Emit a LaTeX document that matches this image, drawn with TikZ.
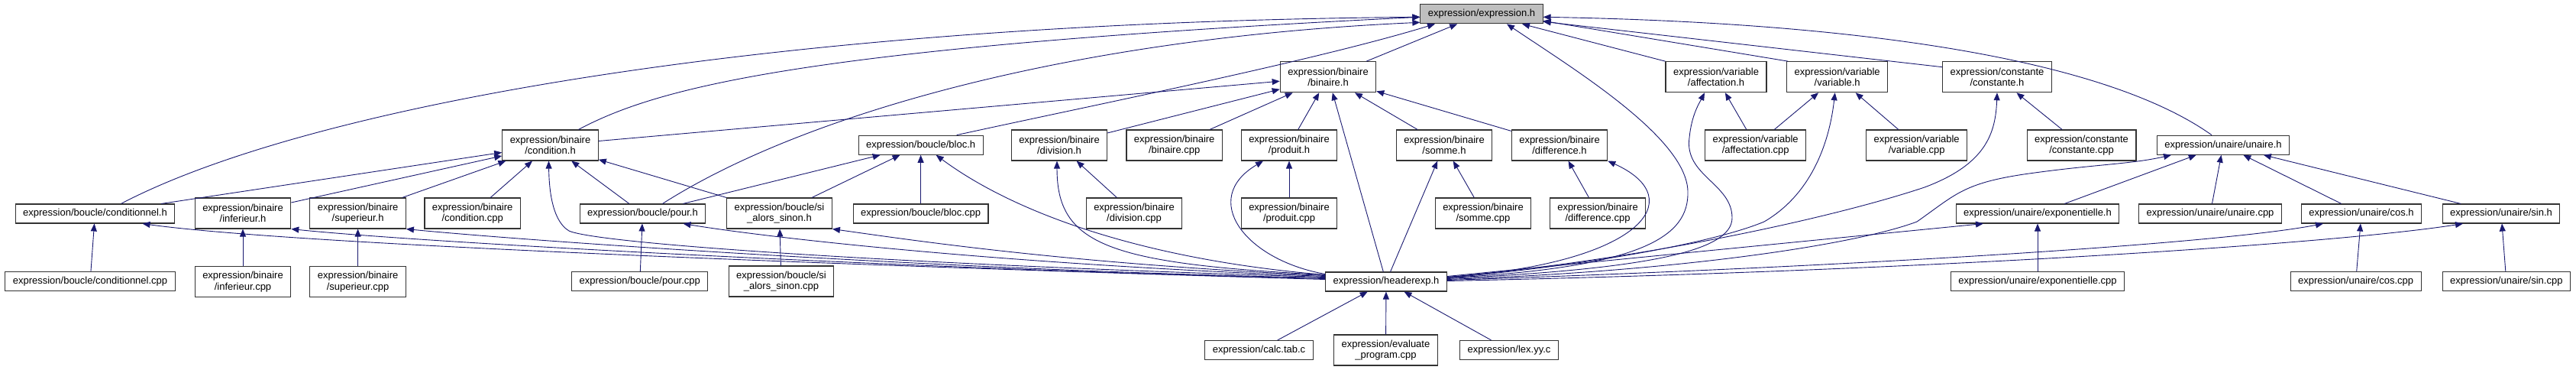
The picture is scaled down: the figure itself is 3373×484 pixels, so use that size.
\documentclass[tikz,border=0pt]{standalone}
\usepackage{fontspec}
\setmainfont{Liberation Sans}
\usetikzlibrary{arrows.meta}
\definecolor{incblue}{RGB}{25,25,112}
\definecolor{selgray}{RGB}{191,191,191}
\tikzset{
  hfile/.style={draw=black!80, line width=1.1pt, fill=white, font=\fontsize{13}{14.5}\selectfont,
    align=center, inner xsep=10pt, inner ysep=2pt, minimum height=25pt},
  hfile2/.style={hfile, minimum height=40pt},
  inc/.style={incblue, line width=0.9pt, -{Triangle[length=10pt, width=8pt]}},
}
\begin{document}
\begin{tikzpicture}[x=1pt, y=-1pt]
\useasboundingbox (0,0) rectangle (3373,484);
\node[hfile, fill=selgray] (exprh) at (1940,18.3) {expression/expression.h};
\node[hfile2] (binh) at (1739,100.7) {expression/binaire\\/binaire.h};
\node[hfile2] (affh) at (2247,100.7) {expression/variable\\/affectation.h};
\node[hfile2] (varh) at (2405.7,100.7) {expression/variable\\/variable.h};
\node[hfile2] (consth) at (2615,100.7) {expression/constante\\/constante.h};
\node[hfile2] (condh) at (720.5,190) {expression/binaire\\/condition.h};
\node[hfile] (bloch) at (1205.6,189.7) {expression/boucle/bloc.h};
\node[hfile2] (divh) at (1387,190) {expression/binaire\\/division.h};
\node[hfile2] (bincpp) at (1537.7,190) {expression/binaire\\/binaire.cpp};
\node[hfile2] (prodh) at (1688,190) {expression/binaire\\/produit.h};
\node[hfile2] (sommeh) at (1891,190) {expression/binaire\\/somme.h};
\node[hfile2] (diffh) at (2042,190) {expression/binaire\\/difference.h};
\node[hfile2] (affcpp) at (2298.7,190) {expression/variable\\/affectation.cpp};
\node[hfile2] (varcpp) at (2509.7,190) {expression/variable\\/variable.cpp};
\node[hfile2] (constcpp) at (2725.5,190) {expression/constante\\/constante.cpp};
\node[hfile] (unh) at (2911,189.7) {expression/unaire/unaire.h};
\node[hfile] (condlh) at (124.5,279.5) {expression/boucle/conditionnel.h};
\node[hfile2] (inferh) at (318,279) {expression/binaire\\/inferieur.h};
\node[hfile2] (superh) at (468.6,279) {expression/binaire\\/superieur.h};
\node[hfile2] (condcpp) at (618.7,279) {expression/binaire\\/condition.cpp};
\node[hfile] (pourh) at (841.5,279.5) {expression/boucle/pour.h};
\node[hfile2] (sih) at (1020.5,279) {expression/boucle/si\\\_alors\_sinon.h};
\node[hfile] (bloccpp) at (1205.6,279.5) {expression/boucle/bloc.cpp};
\node[hfile2] (divcpp) at (1485,279) {expression/binaire\\/division.cpp};
\node[hfile2] (prodcpp) at (1688,279) {expression/binaire\\/produit.cpp};
\node[hfile2] (sommecpp) at (1942,279) {expression/binaire\\/somme.cpp};
\node[hfile2] (diffcpp) at (2092,279) {expression/binaire\\/difference.cpp};
\node[hfile] (exph) at (2668,279.5) {expression/unaire/exponentielle.h};
\node[hfile] (uncpp) at (2894,279.5) {expression/unaire/unaire.cpp};
\node[hfile] (cosh) at (3092,279.5) {expression/unaire/cos.h};
\node[hfile] (sinh) at (3275,279.5) {expression/unaire/sin.h};
\node[hfile] (condlcpp) at (118,368) {expression/boucle/conditionnel.cpp};
\node[hfile2] (infercpp) at (318,368.5) {expression/binaire\\/inferieur.cpp};
\node[hfile2] (supercpp) at (468.6,368.5) {expression/binaire\\/superieur.cpp};
\node[hfile] (pourcpp) at (837.8,368) {expression/boucle/pour.cpp};
\node[hfile2] (sicpp) at (1023,368) {expression/boucle/si\\\_alors\_sinon.cpp};
\node[hfile] (hdr) at (1815,368.5) {expression/headerexp.h};
\node[hfile] (expcpp) at (2668,368) {expression/unaire/exponentielle.cpp};
\node[hfile] (coscpp) at (3084.6,368) {expression/unaire/cos.cpp};
\node[hfile] (sincpp) at (3281.8,368) {expression/unaire/sin.cpp};
\node[hfile] (calc) at (1648.5,458) {expression/calc.tab.c};
\node[hfile2] (evalp) at (1814.5,458) {expression/evaluate\\\_program.cpp};
\node[hfile] (lexyy) at (1976,458) {expression/lex.yy.c};

\draw[inc] ([xshift=34pt]condlh.north) .. controls (400,140) and (1000,30) .. ([yshift=-4pt]exprh.west);
\draw[inc] ([xshift=37pt]condh.north) .. controls (860,115) and (1050,62) .. ([yshift=-4pt]exprh.west);
\draw[inc] ([xshift=26pt]pourh.north) .. controls (1050,150) and (1400,50) .. ([yshift=-11pt]exprh.west);
\draw[inc] ([xshift=47pt]bloch.north) .. controls (1420,140) and (1720,80) .. ([xshift=-61pt]exprh.south);
\draw[inc] (binh) -- (exprh);
\draw[inc] (affh.north west) -- ([xshift=53pt]exprh.south);
\draw[inc] ([xshift=2pt]varh.north west) -- ([yshift=-9pt]exprh.east);
\draw[inc] ([yshift=13pt]consth.west) -- ([yshift=-10pt]exprh.east);
\draw[inc] ([xshift=-15pt]unh.north) .. controls (2760,80) and (2450,30) .. ([yshift=-4pt]exprh.east);
\draw[inc] ([yshift=5pt]hdr.east) .. controls (2150,350) and (2212,310) .. (2210,250)
  .. controls (2208,180) and (2060,90) .. ([xshift=33pt]exprh.south);

\draw[inc] (condh) -- (binh);
\draw[inc] (divh) -- (binh);
\draw[inc] (bincpp) -- (binh);
\draw[inc] (prodh) -- (binh);
\draw[inc] (sommeh) -- (binh);
\draw[inc] (diffh) -- (binh);
\draw[inc] (hdr) -- (binh);

\draw[inc] (condlh) -- (condh);
\draw[inc] (inferh) -- (condh);
\draw[inc] (superh) -- (condh);
\draw[inc] (condcpp) -- (condh);
\draw[inc] (pourh) -- (condh);
\draw[inc] (sih) -- (condh);
\draw[inc] (pourh) -- (bloch);
\draw[inc] (sih) -- (bloch);
\draw[inc] (bloccpp) -- (bloch);
\draw[inc] (condlcpp) -- (condlh);
\draw[inc] (infercpp) -- (inferh);
\draw[inc] (supercpp) -- (superh);
\draw[inc] (pourcpp) -- (pourh);
\draw[inc] (sicpp) -- (sih);
\draw[inc] (divcpp) -- (divh);
\draw[inc] (prodcpp) -- (prodh);
\draw[inc] (sommecpp) -- (sommeh);
\draw[inc] (diffcpp) -- (diffh);
\draw[inc] (affcpp) -- (affh);
\draw[inc] (affcpp) -- (varh);
\draw[inc] (varcpp) -- (varh);
\draw[inc] (constcpp) -- (consth);
\draw[inc] (exph) -- (unh);
\draw[inc] (uncpp) -- (unh);
\draw[inc] (cosh) -- (unh);
\draw[inc] (sinh) -- (unh);
\draw[inc] (expcpp) -- (exph);
\draw[inc] (coscpp) -- (cosh);
\draw[inc] (sincpp) -- (sinh);
\draw[inc] (calc) -- (hdr);
\draw[inc] (evalp) -- (hdr);
\draw[inc] (lexyy) -- (hdr);

\draw[inc] ([yshift=3pt]hdr.west) .. controls (1200,350) and (400,322) .. ([xshift=62pt]condlh.south);
\draw[inc] ([yshift=4pt]hdr.west) .. controls (1200,352) and (560,318) .. (inferh.south east);
\draw[inc] ([yshift=5pt]hdr.west) .. controls (1250,354) and (700,316) .. (superh.south east);
\draw[inc] ([yshift=6pt]hdr.west) .. controls (1150,345) and (780,318) .. (745,302)
  .. controls (725,290) and (719,255) .. ([xshift=-2pt]condh.south);
\draw[inc] ([yshift=7pt]hdr.west) .. controls (1300,345) and (1000,310) .. ([xshift=53pt]pourh.south);
\draw[inc] ([yshift=8pt]hdr.west) .. controls (1400,345) and (1200,315) .. (sih.south east);
\draw[inc] ([yshift=9pt]hdr.west) .. controls (1500,340) and (1330,280) .. ([xshift=20pt]bloch.south);
\draw[inc] ([yshift=9pt]hdr.west) .. controls (1450,345) and (1384,320) .. ([xshift=-3pt]divh.south);
\draw[inc] ([yshift=10pt]hdr.west) .. controls (1630,340) and (1570,260) .. ([xshift=-34pt]prodh.south);
\draw[inc] (hdr) -- (sommeh);

\draw[inc] ([yshift=6pt]hdr.east) .. controls (2150,345) and (2215,260) .. (diffh.south east);
\draw[inc] ([yshift=4pt]hdr.east) .. controls (2150,352) and (2268,330) .. (2268,285)
  .. controls (2268,240) and (2205,230) .. (2212,180) .. controls (2215,150) and (2225,135) .. ([xshift=-15pt]affh.south);
\draw[inc] ([yshift=5pt]hdr.east) .. controls (2100,345) and (2250,315) .. (2310,290)
  .. controls (2370,255) and (2395,190) .. ([xshift=-3pt]varh.south);
\draw[inc] ([yshift=6pt]hdr.east) .. controls (2150,340) and (2400,285) .. (2520,245)
  .. controls (2600,215) and (2613,175) .. (consth.south);
\draw[inc] ([yshift=3pt]hdr.east) .. controls (2200,355) and (2430,320) .. (2510,290)
  .. controls (2560,255) and (2570,240) .. (2650,228) .. controls (2740,215) and (2790,215) .. ([xshift=-68pt]unh.south);
\draw[inc] ([yshift=7pt]hdr.east) -- ([xshift=-71pt]exph.south);
\draw[inc] ([yshift=2pt]hdr.east) .. controls (2400,350) and (2900,320) .. ([xshift=-50pt]cosh.south);
\draw[inc] ([yshift=1pt]hdr.east) .. controls (2500,355) and (3050,320) .. ([xshift=-50pt]sinh.south);
\end{tikzpicture}
\end{document}
